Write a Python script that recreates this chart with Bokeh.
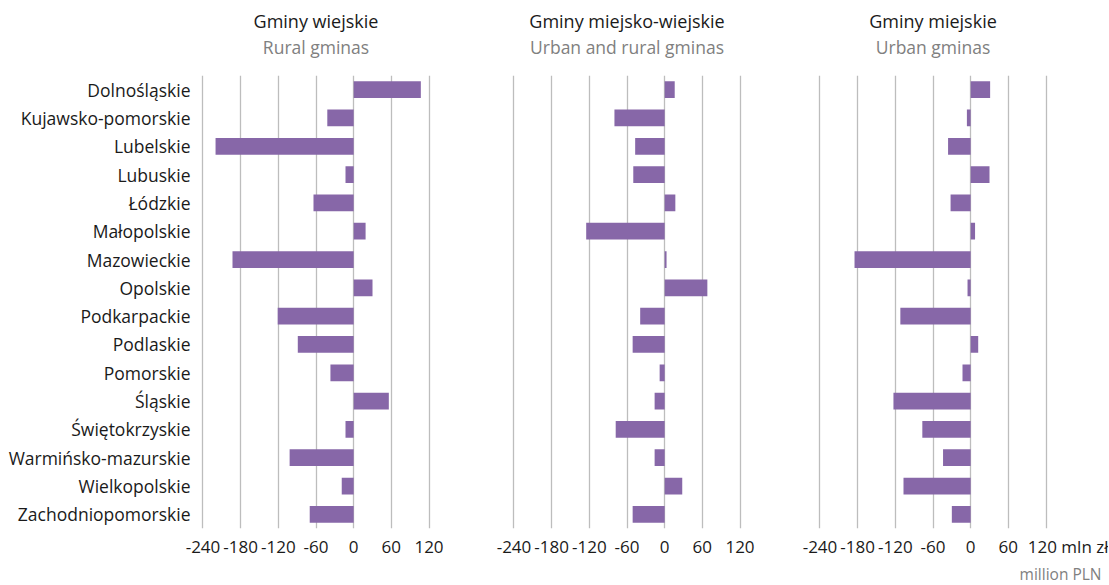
from bokeh.plotting import figure
from bokeh.layouts import row
from bokeh.models import FactorRange, Range1d, FixedTicker, Title, ColumnDataSource
from bokeh.embed import file_html
from bokeh.resources import INLINE

regions = ["Dolnośląskie", "Kujawsko-pomorskie", "Lubelskie", "Lubuskie", "Łódzkie",
           "Małopolskie", "Mazowieckie", "Opolskie", "Podkarpackie", "Podlaskie",
           "Pomorskie", "Śląskie", "Świętokrzyskie", "Warmińsko-mazurskie",
           "Wielkopolskie", "Zachodniopomorskie"]
rural = [107, -42, -220, -13, -64, 19, -193, 30, -121, -89, -37, 56, -13, -102, -19, -70]
urban_rural = [16, -80, -47, -50, 17, -125, 3, 68, -39, -51, -8, -16, -78, -16, 28, -51]
urban = [31, -6, -36, 30, -32, 7, -185, -5, -112, 12, -13, -123, -77, -44, -107, -30]

titles = ["Gminy wiejskie", "Gminy miejsko-wiejskie", "Gminy miejskie"]
subtitles = ["Rural gminas", "Urban and rural gminas", "Urban gminas"]
tick_values = [-240, -180, -120, -60, 0, 60, 120]
tick_labels = ["-240", "-180", "-120", "-60", "0", "60", "120"]
unit_pl = "mln zł"
unit_en = "million PLN"

BAR = "#8767A8"
FONT = "Open Sans"
H = 584
TOP = 75
FRAME_H = 454
BOTTOM = H - TOP - FRAME_H
FRAME_W = 239
X0, X1 = -250.35, 130.35
borders = [(196, 30), (42, 30), (37, 56)]

series = [rural, urban_rural, urban]

figs = []
for i, vals in enumerate(series):
    bl, br = borders[i]
    p = figure(width=bl + FRAME_W + br, height=H,
               y_range=FactorRange(factors=list(reversed(regions))),
               x_range=Range1d(X0, X1),
               output_backend="svg", toolbar_location=None,
               y_axis_location="left" if i == 0 else None,
               min_border_left=bl, min_border_right=br,
               min_border_top=TOP, min_border_bottom=BOTTOM)
    p.outline_line_color = None
    p.background_fill_color = "white"
    p.border_fill_color = "white"

    src = ColumnDataSource(dict(region=regions, val=vals))
    p.hbar(y="region", left=0, right="val", height=0.59, source=src,
           fill_color=BAR, line_color=None)

    labels = list(tick_labels)
    if i == 2:
        labels[-1] = "\u00a0" * 12 + tick_labels[-1] + " " + unit_pl
    p.xaxis.ticker = FixedTicker(ticks=tick_values)
    p.xaxis.major_label_overrides = {v: t for v, t in zip(tick_values, labels)}
    p.xaxis.axis_label = None
    p.xaxis.axis_line_color = None
    p.xaxis.major_tick_line_color = None
    p.xaxis.minor_tick_line_color = None
    p.xaxis.major_tick_in = 0
    p.xaxis.major_tick_out = 0
    p.xaxis.major_label_standoff = 6 if i == 2 else 12
    p.xaxis.major_label_text_font = FONT
    p.xaxis.major_label_text_font_size = "17px"
    p.xaxis.major_label_text_color = "#1a1a1a"

    p.xgrid.ticker = FixedTicker(ticks=tick_values)
    p.xgrid.grid_line_color = "#bdbdbd"
    p.xgrid.grid_line_width = 1.3
    p.ygrid.grid_line_color = None

    if i == 0:
        p.yaxis.axis_label = None
        p.yaxis.axis_line_color = None
        p.yaxis.major_tick_line_color = None
        p.yaxis.minor_tick_line_color = None
        p.yaxis.major_tick_in = 0
        p.yaxis.major_tick_out = 0
        p.yaxis.major_label_standoff = 6
        p.yaxis.major_label_text_font = FONT
        p.yaxis.major_label_text_font_size = "17.5px"
        p.yaxis.major_label_text_color = "#1a1a1a"

    # spacer between frame and subtitle
    p.add_layout(Title(text=" ", text_font_size="1px", standoff=14), "above")
    p.add_layout(Title(text=subtitles[i], align="center", text_font=FONT,
                       text_font_size="17.5px", text_font_style="normal",
                       text_color="#808080", standoff=0), "above")
    p.add_layout(Title(text=titles[i], align="center", text_font=FONT,
                       text_font_size="18px", text_font_style="normal",
                       text_color="#1a1a1a", standoff=0), "above")
    if i == 2:
        p.add_layout(Title(text=unit_en, align="right", offset=-49, text_font=FONT,
                           text_font_size="15.5px", text_font_style="normal",
                           text_color="#808080", standoff=0), "below")
    figs.append(p)

layout = row(*figs)
open("out.html", "w").write(file_html(layout, INLINE))
